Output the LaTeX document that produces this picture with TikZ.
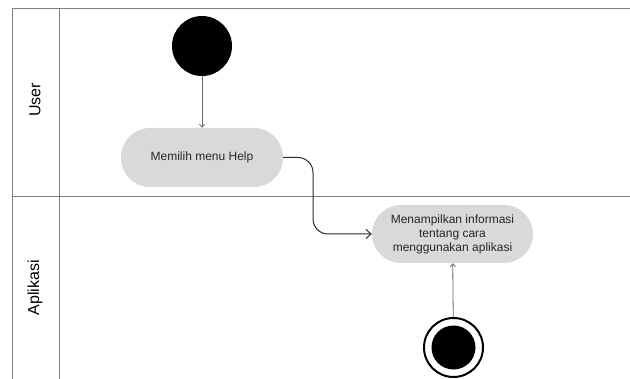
\documentclass[tikz,border=0pt]{standalone}
\usepackage{fontspec}
\setmainfont{Liberation Sans}
\usetikzlibrary{arrows.meta}
\definecolor{actfill}{HTML}{D9D9D9}
\definecolor{frameline}{HTML}{7F7F7F}
\definecolor{flowline}{HTML}{2B2B2B}
\tikzset{
  lane/.style={draw=frameline, line width=0.9pt},
  lanelabel/.style={rotate=90, font=\fontsize{16}{18}\selectfont, inner sep=0pt},
  activity/.style={draw=none, fill=actfill, rounded corners=29pt, minimum width=162pt, minimum height=59pt, align=center, font=\fontsize{12}{14}\selectfont, inner sep=2pt, text=black!85},
  startnode/.style={circle, fill=black, minimum size=60pt, inner sep=0pt},
  endouter/.style={circle, draw=black, line width=2pt, fill=white, minimum size=59pt, inner sep=0pt},
  endinner/.style={circle, fill=black, minimum size=44pt, inner sep=0pt},
  thinflow/.style={draw=gray!80!black, line width=0.8pt, -{Straight Barb[length=3pt,width=5pt]}},
  mainflow/.style={draw=flowline, line width=1pt, rounded corners=15pt, -{Straight Barb[length=5pt,width=9pt]}}
}
\begin{document}
\begin{tikzpicture}[x=1pt, y=-1pt]
\useasboundingbox (0,0) rectangle (630,379);
% swimlane frame
\draw[lane] (12,379) -- (12,8) -- (630,8);
\draw[lane] (59,8) -- (59,379);
\draw[lane] (12,196) -- (630,196);
\node[lanelabel] (luser) at (35,100) {User};
\node[lanelabel] (lapp) at (35,288) {Aplikasi};
% nodes
\node[startnode] (start) at (202,46) {};
\node[activity] (a1) at (202,157.5) {Memilih menu Help};
\node[activity, minimum width=161pt, minimum height=58pt] (a2) at (452.5,234) {Menampilkan informasi\\tentang cara\\menggunakan aplikasi};
\node[endouter] (endo) at (453.5,347.5) {};
\node[endinner] (endi) at (453.5,347.5) {};
\coordinate (bend) at (313,196);
% connectors
\draw[thinflow] (start) -- (a1);
\draw[mainflow] (a1.east) -- (a1.east -| bend) -- (a2.west -| bend) -- (a2.west);
\draw[thinflow] (endo) -- (a2);
\end{tikzpicture}
\end{document}
